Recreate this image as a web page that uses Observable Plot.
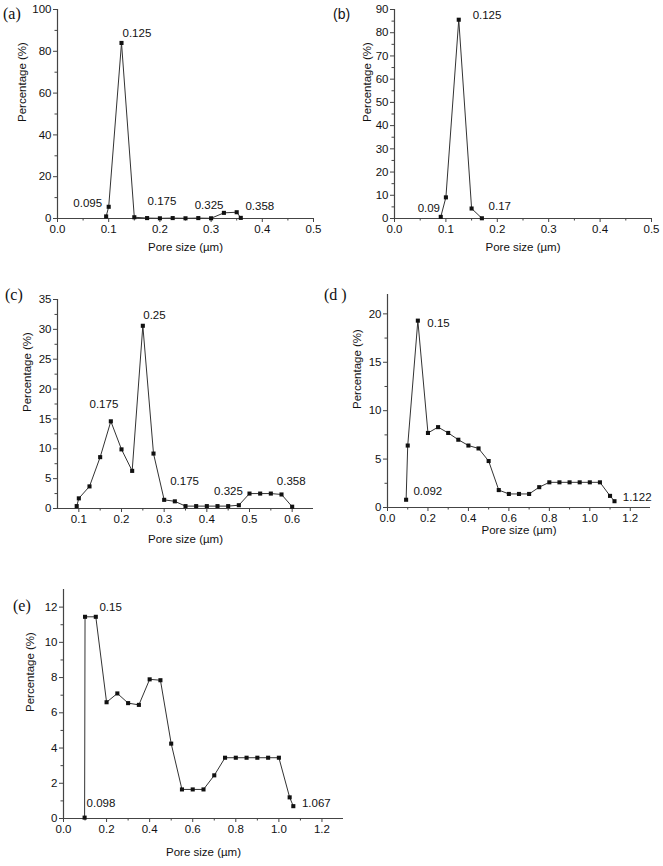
<!DOCTYPE html>
<html><head><meta charset="utf-8">
<script src="https://cdn.jsdelivr.net/npm/d3@7"></script>
<script src="https://cdn.jsdelivr.net/npm/@observablehq/plot@0.6"></script>
<style>
body{margin:0;background:#fff;}
#wrap{position:relative;width:663px;height:866px;font-family:"Liberation Sans",Arial,sans-serif;overflow:hidden;}
#wrap svg, #wrap svg text{font-family:"Liberation Sans",Arial,sans-serif !important;}
.panel{position:absolute;}
.tag{position:absolute;font-family:"Liberation Serif","Times New Roman",serif;font-size:16px;line-height:1;color:#111;}
.tag.sans{font-family:"Liberation Sans",Arial,sans-serif;font-size:14px;}
</style></head><body><div id="wrap"></div>
<script>
// ---- Panel (a) ----
const aSize = [0.095,0.1,0.125,0.15,0.175,0.2,0.225,0.25,0.275,0.3,0.325,0.35,0.358];
const aPct  = [1.0,5.6,84,0.6,0.2,0.1,0.2,0.1,0.2,0.1,2.7,3.0,0.3];
const aLabelText = ["0.095","0.125","0.175","0.325","0.358"];
const aLabelX = [0.031,0.127,0.176,0.268,0.367];
const aLabelY = [7.2,88.5,8.1,6.2,5.7];
const aXTicks = [0,0.1,0.2,0.3,0.4,0.5];
const aXMinor = [0.05,0.15,0.25,0.35,0.45];
const aYTicks = [0,20,40,60,80,100];
const aYMinor = [10,30,50,70,90];

// ---- Panel (b) ----
const bSize = [0.09,0.1,0.125,0.15,0.17];
const bPct  = [0.7,9.1,85.6,4.3,0.1];
const bLabelText = ["0.09","0.125","0.17"];
const bLabelX = [0.045,0.152,0.183];
const bLabelY = [4.3,87.5,5.2];
const bXTicks = [0,0.1,0.2,0.3,0.4,0.5];
const bXMinor = [0.05,0.15,0.25,0.35,0.45];
const bYTicks = [0,10,20,30,40,50,60,70,80,90];
const bYMinor = [5,15,25,35,45,55,65,75,85];

// ---- Panel (c) ----
const cSize = [0.095,0.1,0.125,0.15,0.175,0.2,0.225,0.25,0.275,0.3,0.325,0.35,0.375,0.4,0.425,0.45,0.475,0.5,0.525,0.55,0.575,0.6];
const cPct  = [0.4,1.7,3.7,8.6,14.6,9.9,6.3,30.6,9.2,1.45,1.2,0.4,0.4,0.4,0.4,0.4,0.55,2.5,2.5,2.5,2.35,0.3];
const cLabelText = ["0.175","0.25","0.175","0.325","0.358"];
const cLabelX = [0.125,0.251,0.314,0.417,0.564];
const cLabelY = [17.4,32.3,4.5,2.8,4.5];
const cXTicks = [0.1,0.2,0.3,0.4,0.5,0.6];
const cXMinor = [0.15,0.25,0.35,0.45,0.55];
const cYTicks = [0,5,10,15,20,25,30,35];
const cYMinor = [2.5,7.5,12.5,17.5,22.5,27.5,32.5];

// ---- Panel (d) ----
const dSize = [0.092,0.1,0.15,0.2,0.25,0.3,0.35,0.4,0.45,0.5,0.55,0.6,0.65,0.7,0.75,0.8,0.85,0.9,0.95,1.0,1.05,1.1,1.122];
const dPct  = [0.8,6.4,19.3,7.7,8.3,7.7,7.0,6.4,6.1,4.8,1.8,1.4,1.4,1.4,2.1,2.6,2.6,2.6,2.6,2.6,2.6,1.2,0.65];
const dLabelText = ["0.15","0.092","1.122"];
const dLabelX = [0.197,0.128,1.163];
const dLabelY = [19.0,1.65,1.1];
const dXTicks = [0,0.2,0.4,0.6,0.8,1.0,1.2];
const dXMinor = [0.1,0.3,0.5,0.7,0.9,1.1];
const dYTicks = [0,5,10,15,20];
const dYMinor = [2.5,7.5,12.5,17.5];

// ---- Panel (e) ----
const eSize = [0.098,0.1,0.15,0.2,0.25,0.3,0.35,0.4,0.45,0.5,0.55,0.6,0.65,0.7,0.75,0.8,0.85,0.9,0.95,1.0,1.05,1.067];
const ePct  = [0.05,11.45,11.45,6.6,7.1,6.55,6.45,7.9,7.85,4.25,1.65,1.65,1.65,2.45,3.45,3.45,3.45,3.45,3.45,3.45,1.2,0.7];
const eLabelText = ["0.15","0.098","1.067"];
const eLabelX = [0.167,0.107,1.107];
const eLabelY = [12.0,0.85,0.85];
const eXTicks = [0,0.2,0.4,0.6,0.8,1.0,1.2];
const eXMinor = [0.1,0.3,0.5,0.7,0.9,1.1];
const eYTicks = [0,2,4,6,8,10,12];
const eYMinor = [1,3,5,7,9,11];

const xTitle = "Pore size (µm)";
const yTitle = "Percentage (%)";

function panel(cfg){
  const data = cfg.size.map((s,i)=>({s, p: cfg.pct[i]}));
  const labels = cfg.lt.map((t,i)=>({t, x: cfg.lx[i], y: cfg.ly[i]}));
  const fmtX = d3.format(".1f");
  const fmtY = d => String(d);
  const axisColor = "#444";
  const FS = 11.5;
  const plot = Plot.plot({
    width: cfg.w, height: cfg.h,
    marginLeft: cfg.ml, marginRight: cfg.mr, marginTop: cfg.mt, marginBottom: cfg.mb,
    style: {fontFamily: "Liberation Sans, Arial, sans-serif", fontSize: "11px", color: "#111", background: "transparent", overflow: "visible"},
    x: {domain: cfg.xd},
    y: {domain: cfg.yd},
    marks: [
      Plot.ruleY([cfg.yd[0]], {stroke: axisColor, strokeWidth: 1.2}),
      Plot.ruleX([cfg.xd[0]], {stroke: axisColor, strokeWidth: 1.2}),
      Plot.axisX({ticks: cfg.xt, tickSize: 4, tickPadding: 2, tickFormat: fmtX, label: null, stroke: axisColor, fill: "#111", fontSize: FS}),
      Plot.axisX({ticks: cfg.xm, tickSize: 2.5, tickFormat: () => "", label: null, stroke: axisColor}),
      Plot.axisY({ticks: cfg.yt, tickSize: 4, tickPadding: 2, tickFormat: fmtY, label: null, stroke: axisColor, fill: "#111", fontSize: FS}),
      Plot.axisY({ticks: cfg.ym, tickSize: 2.5, tickFormat: () => "", label: null, stroke: axisColor}),
      Plot.line(data, {x: "s", y: "p", stroke: "#333", strokeWidth: 1}),
      Plot.dot(data, {x: "s", y: "p", symbol: "square", r: 2.3, fill: "#111", stroke: "none"}),
      Plot.text(labels, {x: "x", y: "y", text: "t", textAnchor: "start", fontSize: FS, fill: "#111"}),
      Plot.text([xTitle], {frameAnchor: "bottom", dy: cfg.xdy, fontSize: FS, fill: "#111"}),
      Plot.text([yTitle], {frameAnchor: "left", rotate: -90, dx: -cfg.ydx, dy: 8, fontSize: FS, fill: "#111"})
    ]
  });
  const div = document.createElement("div");
  div.className = "panel";
  div.style.left = cfg.left + "px";
  div.style.top = cfg.top + "px";
  div.appendChild(plot);
  document.getElementById("wrap").appendChild(div);
}

panel({size:aSize,pct:aPct,lt:aLabelText,lx:aLabelX,ly:aLabelY,xt:aXTicks,xm:aXMinor,yt:aYTicks,ym:aYMinor,
  xd:[0,0.5],yd:[0,100],left:0,top:0,w:330,h:270,ml:57,mr:17,mt:9,mb:52,xdy:32,ydx:35});
panel({size:bSize,pct:bPct,lt:bLabelText,lx:bLabelX,ly:bLabelY,xt:bXTicks,xm:bXMinor,yt:bYTicks,ym:bYMinor,
  xd:[0,0.5],yd:[0,90],left:330,top:0,w:333,h:270,ml:64,mr:12,mt:9,mb:52,xdy:32,ydx:27});
panel({size:cSize,pct:cPct,lt:cLabelText,lx:cLabelX,ly:cLabelY,xt:cXTicks,xm:cXMinor,yt:cYTicks,ym:cYMinor,
  xd:[0.05,0.65],yd:[0,35],left:0,top:280,w:330,h:290,ml:57,mr:17,mt:19,mb:62,xdy:34,ydx:30});
panel({size:dSize,pct:dPct,lt:dLabelText,lx:dLabelX,ly:dLabelY,xt:dXTicks,xm:dXMinor,yt:dYTicks,ym:dYMinor,
  xd:[0,1.3],yd:[0,22],left:330,top:280,w:333,h:290,ml:57,mr:13,mt:14,mb:63,xdy:26,ydx:30});
panel({size:eSize,pct:ePct,lt:eLabelText,lx:eLabelX,ly:eLabelY,xt:eXTicks,xm:eXMinor,yt:eYTicks,ym:eYMinor,
  xd:[0,1.3],yd:[0,13],left:0,top:580,w:350,h:286,ml:63,mr:7,mt:9,mb:48,xdy:37,ydx:33});

const tags = [
  {t:"(a)", x:3, y:6, cls:""},
  {t:"(b)", x:333, y:7, cls:"sans"},
  {t:"(c)", x:5, y:287, cls:""},
  {t:"(d )", x:324, y:287, cls:""},
  {t:"(e)", x:13, y:598, cls:""}
];
for (const g of tags){
  const el = document.createElement("div");
  el.className = "tag " + g.cls;
  el.textContent = g.t;
  el.style.left = g.x + "px";
  el.style.top = g.y + "px";
  document.getElementById("wrap").appendChild(el);
}
</script></body></html>
